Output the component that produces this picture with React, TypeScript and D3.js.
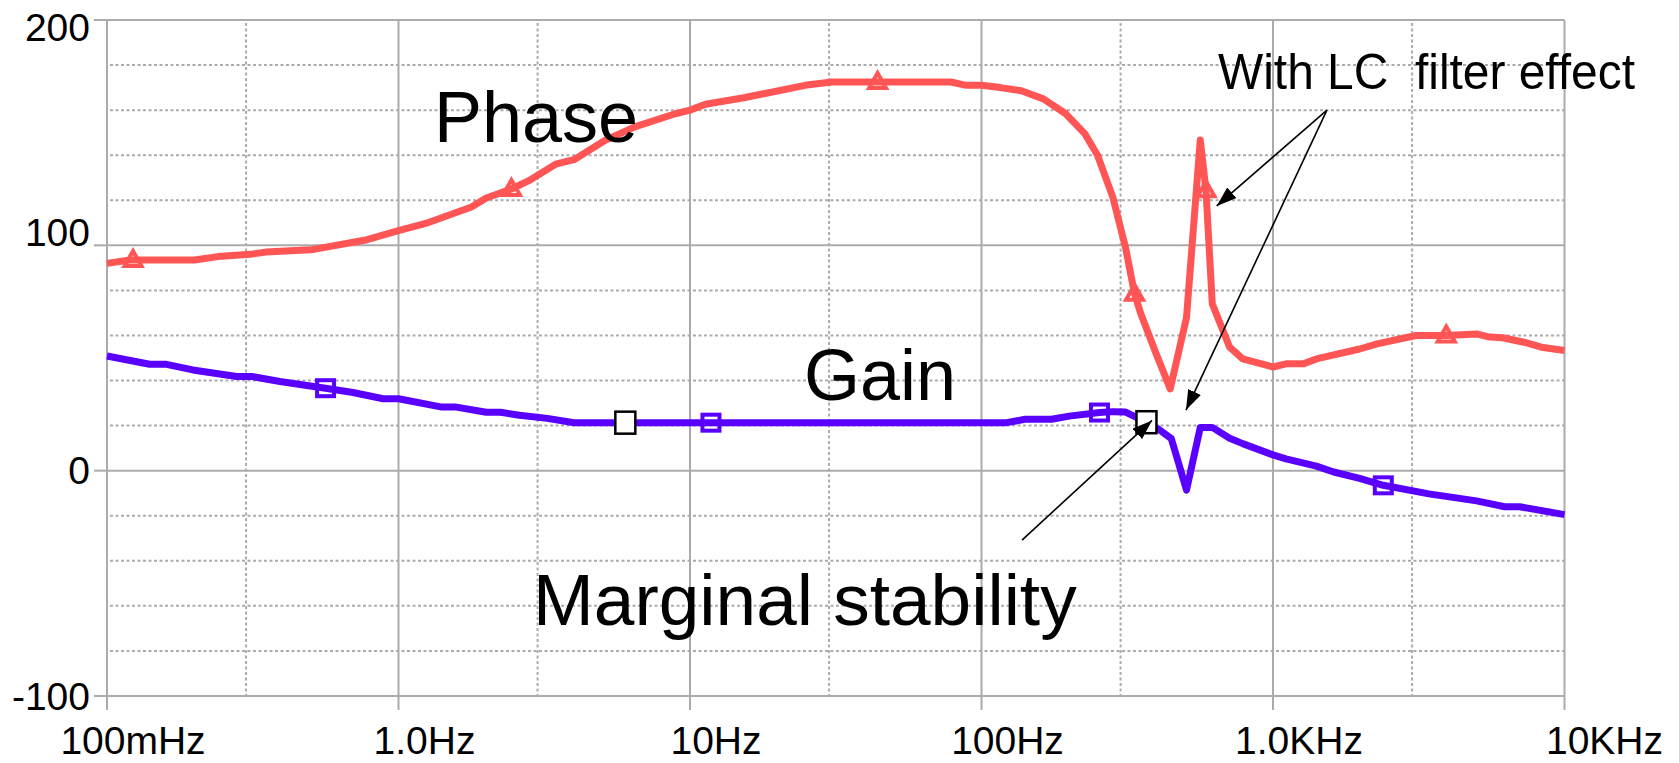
import React from "react";
import * as d3 from "d3";

// Bode plot: phase (deg) and gain (dB) against frequency (Hz)
const phaseFreq = [
  0.1, 0.12, 0.2, 0.24, 0.31, 0.35, 0.5, 0.78, 1.0, 1.24, 1.78, 2.0, 2.44, 2.8, 3.46, 4.0, 5.1, 6.5, 8.9, 10,
  11.3, 15.3, 24.8, 30.6, 44, 78.6, 88.6, 100, 116, 137, 163, 194, 226, 250, 282, 312, 335, 352, 397, 444,
  505, 563, 589, 619, 710, 787, 1000, 1108, 1270, 1408, 1982, 2275, 3094, 3929, 4993, 5530, 6130, 7265, 8330, 10000,
];
const phaseDeg = [
  92, 93.5, 93.5, 95, 96, 97, 98, 102.5, 106.5, 109.7, 117, 121, 125, 128.7, 136, 138, 146.5, 152.7, 158.4, 160,
  162.6, 165.5, 171, 172.5, 172.5, 172.5, 171, 171, 170, 168.6, 165, 158.5, 149.6, 140, 121.5, 99, 78.5, 69.6, 52, 36.3,
  68, 146.7, 124.4, 74, 54.8, 49.6, 46, 47.4, 47.4, 49.6, 54, 56.3, 60, 60, 60.7, 59.3, 59, 57, 54.8, 53.3,
];

const gainFreq = [
  0.1, 0.14, 0.16, 0.197, 0.278, 0.314, 0.392, 0.562, 0.698, 0.886, 1.0, 1.41, 1.58, 2.0, 2.24, 2.6, 3.24, 4.0, 6.0, 11.8,
  122, 141, 174, 200, 254, 282, 312, 368, 404, 448, 505, 563, 619, 710, 787, 1000, 1108, 1408, 1615, 1982,
  2390, 3426, 4993, 6230, 7013, 10000,
];
const gainDb = [
  50.9, 47.2, 47.2, 44.7, 41.8, 41.8, 39.6, 36.6, 34.7, 31.9, 31.9, 28.2, 28.2, 25.9, 25.9, 24.6, 23.2, 21.3, 21.3, 21.3,
  21.3, 22.8, 22.8, 24.2, 25.8, 26.2, 26, 21.5, 18.5, 14.2, -8.6, 19.2, 19.2, 14.4, 12, 7, 5.2, 2, -0.6, -3.4,
  -6.5, -10.3, -13.4, -16, -16, -19.5,
];

const phaseMarkerFreq = [0.1228, 2.44, 44, 335, 589, 3929];
const gainMarkerFreq = [0.562, 11.8, 254, 2390];
const marginalFreq = [6.0, 368];

const decades = [0.1, 1, 10, 100, 1000, 10000];
const decadeLabels = ["100mHz", "1.0Hz", "10Hz", "100Hz", "1.0KHz", "10KHz"];
const minorFreq = [0.3, 3, 30, 300, 3000];
const yTicks = [200, 100, 0, -100];

const W = 1679, H = 763;
const FONT = "'Liberation Sans', Arial, sans-serif";
const GRID = "#ababab";
const RED = "#ff5555";
const BLUE = "#5a00ff";

export default function App() {
  const x = d3.scaleLog().domain([0.1, 10000]).range([107, 1564.5]);
  const y = d3.scaleLinear().domain([-100, 200]).range([696, 20]);

  const line = d3.line<[number, number]>().x(d => x(d[0])).y(d => y(d[1]));
  const phasePts = phaseFreq.map((f, i) => [f, phaseDeg[i]] as [number, number]);
  const gainPts = gainFreq.map((f, i) => [f, gainDb[i]] as [number, number]);

  const phaseAt = d3.scaleLog().domain(phaseFreq).range(phaseDeg);
  const gainAt = d3.scaleLog().domain(gainFreq).range(gainDb);

  // annotation arrows in data space: [f1, v1, f2, v2]
  const arrows = [
    [1531, 160, 641, 117.5],
    [1531, 160, 503, 26.9],
    [137.7, -30.8, 384.6, 22.3],
  ];

  const [x0, x1] = x.range();
  const [y0, y1] = y.range();

  // the original labels sit a little off their gridlines
  const yLabelShift = (v: number) => (v === 200 ? 7 : v === 100 ? -13 : 0);
  const xLabelShift = (f: number) => (f === 10000 ? 40 : 26);

  return (
    <svg width={W} height={H} style={{ position: "absolute", left: 0, top: 0, background: "#fff" }}>
      <defs>
        <marker id="ah" markerWidth={20} markerHeight={14} refX={20} refY={7} orient="auto" markerUnits="userSpaceOnUse">
          <path d="M0,0 L20,7 L0,14 Z" fill="#000" />
        </marker>
      </defs>

      {/* horizontal grid */}
      {d3.range(-100, 201, 20).map(v => {
        const solid = v % 100 === 0;
        return (
          <line key={"h" + v} x1={solid ? x0 : x0 + 3} x2={x1} y1={y(v)} y2={y(v)}
            stroke={GRID} strokeWidth={2} strokeDasharray={solid ? undefined : "3,2.5"} />
        );
      })}
      {/* vertical grid */}
      {minorFreq.map(f => (
        <line key={"m" + f} x1={x(f)} x2={x(f)} y1={y1 + 3} y2={y0}
          stroke={GRID} strokeWidth={2} strokeDasharray="3,2.5" />
      ))}
      {decades.map(f => (
        <line key={"d" + f} x1={x(f)} x2={x(f)} y1={y1} y2={y0 + 14} stroke={GRID} strokeWidth={2} />
      ))}
      {yTicks.map(v => (
        <line key={"t" + v} x1={x0 - 13} x2={x0} y1={y(v)} y2={y(v)} stroke={GRID} strokeWidth={2} />
      ))}

      {/* curves */}
      <path d={line(phasePts) || ""} fill="none" stroke={RED} strokeWidth={7} strokeLinejoin="round" />
      <path d={line(gainPts) || ""} fill="none" stroke={BLUE} strokeWidth={7} strokeLinejoin="round" />

      {phaseMarkerFreq.map(f => {
        const cx = x(f), cy = y(phaseAt(f));
        return (
          <path key={"pm" + f} d={`M${cx},${cy - 9} L${cx + 8.5},${cy + 6} L${cx - 8.5},${cy + 6} Z`}
            fill="none" stroke={RED} strokeWidth={4} />
        );
      })}
      {gainMarkerFreq.map(f => (
        <rect key={"gm" + f} x={x(f) - 8.5} y={y(gainAt(f)) - 8} width={17} height={16}
          fill="none" stroke={BLUE} strokeWidth={4} />
      ))}
      {marginalFreq.map(f => (
        <rect key={"mm" + f} x={x(f) - 10} y={y(gainAt(f)) - 11} width={20} height={22}
          fill="#fff" stroke="#000" strokeWidth={2.5} />
      ))}

      {/* axis labels */}
      {yTicks.map(v => (
        <text key={"yl" + v} x={90} y={y(v) + yLabelShift(v)} dy="0.35em" textAnchor="end"
          fontFamily={FONT} fontSize={39} fill="#000">{v}</text>
      ))}
      {decades.map((f, i) => (
        <text key={"xl" + f} x={x(f) + xLabelShift(f)} y={754} textAnchor="middle"
          fontFamily={FONT} fontSize={39} fill="#000">{decadeLabels[i]}</text>
      ))}

      {/* annotations */}
      <text x={434} y={142} fontFamily={FONT} fontSize={72} fill="#000">Phase</text>
      <text x={804} y={400} fontFamily={FONT} fontSize={72} fill="#000">Gain</text>
      <text x={533} y={625} fontFamily={FONT} fontSize={73} fill="#000">Marginal stability</text>
      <text x={1218} y={89} fontFamily={FONT} fontSize={50} fill="#000" textLength={417}
        lengthAdjust="spacingAndGlyphs" style={{ whiteSpace: "pre" }}>{"With LC  filter effect"}</text>

      {arrows.map((a, i) => (
        <line key={"ar" + i} x1={x(a[0])} y1={y(a[1])} x2={x(a[2])} y2={y(a[3])}
          stroke="#000" strokeWidth={1.6} markerEnd="url(#ah)" />
      ))}
    </svg>
  );
}
